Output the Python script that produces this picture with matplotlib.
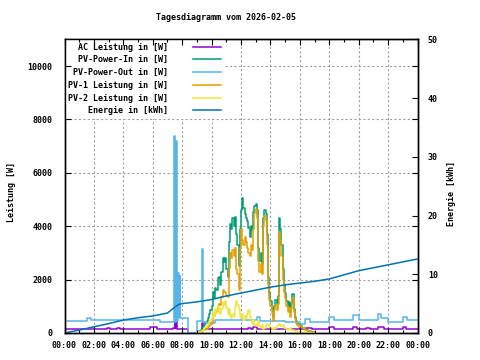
import numpy as np
import matplotlib
matplotlib.use("Agg")
import matplotlib.pyplot as plt
from matplotlib.ticker import MultipleLocator, FuncFormatter

plt.rcParams['font.family'] = ['DejaVu Sans Mono']
plt.rcParams['font.size'] = 6
plt.rcParams['font.weight'] = 'bold'

title = "Tagesdiagramm vom 2026-02-05"

# AC Leistung [W]: Stufen (Stunde, Wert)
ac_h = [0, 2.9, 3.1, 3.6, 3.8, 5.8, 6.3, 7.4, 7.5, 7.53, 7.6, 7.68, 8.4, 9.33, 9.4,
        12.5, 12.7, 12.8, 13.1, 16.4, 16.8, 18.0, 18.3, 19.6, 19.9, 20.5, 20.8,
        21.3, 21.7, 23.0, 23.2, 24]
ac_w = [140, 180, 140, 170, 140, 220, 150, 200, 2400, 200, 700, 150, 0, 380, 140,
        180, 140, 240, 140, 200, 140, 240, 140, 240, 140, 200, 140,
        240, 140, 240, 140, 140]

# PV-Power-Out [W]
out_h = [0, 1.5, 1.8, 6.5, 7.42, 7.48, 7.55, 7.62, 7.72, 7.78, 7.82, 7.88, 8.4,
         9.0, 9.33, 9.4, 9.7, 10.2, 13.1, 13.3, 15.0, 16.0, 16.35, 16.7, 18.0,
         18.3, 19.6, 20.0, 21.3, 21.5, 22.0, 23.0, 23.3, 24]
out_w = [450, 575, 480, 430, 7390, 430, 7200, 450, 2250, 600, 2150, 560, 0,
         450, 3150, 420, 380, 480, 600, 450, 400, 340, 530, 400, 600,
         490, 660, 480, 720, 580, 400, 600, 480, 480]

# PV-Leistungen ab 09:00, alle 5 Minuten [W]
solar_start = 9.0
pv_in = [10, 40, 80, 120, 180, 240, 300, 380, 450, 550, 700, 850,
         1000, 1550, 1300, 1700, 1600, 2050, 2100, 1800, 2300, 2800, 2650, 2800,
         2400, 2100, 3400, 4100, 3900, 4300, 4000, 4350, 3700, 3300, 2500, 3900,
         4600, 5050, 4700, 4450, 4300, 4200, 3950, 3600, 4000, 3850, 4550, 4750,
         4850, 4600, 3200, 2700, 3000, 2600, 4300, 4600, 4450, 3700, 2100, 1500,
         1200, 900, 600, 1000, 1250, 1100, 1400, 4300, 3900, 3300, 2400, 1800,
         1500, 1200, 950, 1150, 800, 1100, 1450, 900, 600, 450, 350, 250,
         300, 250, 200, 200, 150, 120, 100, 80, 60, 50, 40, 30,
         10, 0]
pv1 = [5, 20, 40, 55, 85, 105, 125, 145, 165, 210, 270, 340,
       430, 720, 620, 770, 820, 1000, 1100, 1050, 1350, 1600, 1550, 1550,
       1400, 1350, 2450, 3000, 2800, 3100, 2900, 3200, 2400, 2200, 1600, 3200,
       3900, 3500, 3300, 3600, 3400, 3200, 3000, 2900, 3300, 3100, 3900, 4500,
       4650, 4300, 2700, 2300, 2600, 2200, 4000, 4400, 4200, 3300, 1800, 1250,
       1000, 750, 450, 850, 1050, 850, 1100, 3800, 3500, 2900, 2000, 1550,
       1300, 1000, 800, 950, 600, 950, 1300, 800, 520, 380, 300, 210,
       270, 210, 170, 170, 130, 110, 90, 70, 55, 50, 40, 30,
       10, 0]
pv2 = [5, 20, 40, 60, 90, 130, 170, 230, 280, 330, 420, 500,
       550, 800, 650, 900, 750, 1000, 950, 700, 900, 1150, 1050, 1200,
       950, 700, 900, 650, 550, 700, 600, 1000, 1200, 1050, 900, 600,
       550, 700, 500, 650, 550, 700, 850, 600, 450, 350, 500, 300,
       250, 350, 450, 250, 200, 300, 150, 200, 250, 350, 300, 250,
       200, 150, 180, 150, 200, 250, 300, 350, 300, 250, 300, 200,
       180, 150, 120, 150, 180, 120, 100, 80, 70, 60, 40, 30,
       20, 30, 25, 20, 15, 10, 10, 5, 5, 0, 0, 0,
       0, 0]

# Energie [kWh]
energy_h = [0, 1, 2, 3, 4, 5, 6, 7, 7.5, 7.8, 8, 9, 10, 11, 12, 13, 14, 15, 16,
            17, 18, 19, 20, 21, 22, 23, 24]
energy_kwh = [0, 0.5, 1.05, 1.6, 2.2, 2.6, 2.9, 3.4, 4.4, 4.9, 5.0, 5.3, 5.7, 6.3,
              6.8, 7.3, 7.8, 8.2, 8.5, 8.8, 9.2, 9.9, 10.6, 11.1, 11.6, 12.1, 12.6]

labels = ["AC Leistung in [W]", "PV-Power-In in [W]", "PV-Power-Out in [W]",
          "PV-1 Leistung in [W]", "PV-2 Leistung in [W]", "Energie in [kWh]"]
colors = ["#9400d3", "#009e73", "#56b4e9", "#e69f00", "#f0e442", "#0072b2"]

solar_h = solar_start + np.arange(len(pv_in)) * 5 / 60

fig = plt.figure(figsize=(4.8, 3.6), dpi=100)
ax = fig.add_axes([64.5 / 480, 27 / 360, 353 / 480, 293.7 / 360])
ax2 = ax.twinx()
# left axis on top, so its ticks sit above the legend box
ax.set_zorder(ax2.get_zorder() + 1)
ax.patch.set_visible(False)
ax.set_axisbelow(False)

ax.set_xlim(0, 24)
ax.set_ylim(0, 11000)
ax2.set_ylim(0, 50)

ax.xaxis.set_major_locator(MultipleLocator(2))
ax.xaxis.set_minor_locator(MultipleLocator(1))
ax.xaxis.set_major_formatter(FuncFormatter(lambda h, p: f"{int(round(h)) % 24:02d}:00"))
ax.yaxis.set_major_locator(MultipleLocator(2000))
ax2.yaxis.set_major_locator(MultipleLocator(10))

# grid by hand so the legend box can hide it but not the ticks
grid_kw = dict(color='#a0a0a0', linestyle=(0, (2, 2)), lw=0.8, zorder=1)
for x in ax.get_xticks()[1:-1]:
    ax.axvline(x, **grid_kw)
for y in ax.get_yticks():
    if 0 < y < 11000:
        ax.axhline(y, **grid_kw)

lw = 1.1
handles = []
handles += ax.plot(ac_h, ac_w, color=colors[0], lw=lw, drawstyle='steps-post')
handles += ax.plot(solar_h, pv_in, color=colors[1], lw=lw, drawstyle='steps-post')
handles += ax.plot(out_h, out_w, color=colors[2], lw=lw, drawstyle='steps-post')
handles += ax.plot(solar_h, pv1, color=colors[3], lw=lw, drawstyle='steps-post')
handles += ax.plot(solar_h, pv2, color=colors[4], lw=lw, drawstyle='steps-post')
handles += ax.plot(energy_h, energy_kwh, color=colors[5], lw=lw,
                   transform=ax2.transData, zorder=2.1)

ax.tick_params(axis='x', which='both', direction='in', top=True, pad=5.5)
ax.tick_params(axis='x', which='major', length=4, width=0.8)
ax.tick_params(axis='x', which='minor', length=2.5, width=0.8)
ax.tick_params(axis='y', direction='in', right=True, length=4, width=0.8, pad=8.5)
ax2.tick_params(axis='y', direction='in', length=4, width=0.8, pad=7.5)

for a in (ax, ax2):
    for s in a.spines.values():
        s.set_linewidth(1.0)

width = max(len(s) for s in labels)
leg = ax.legend(handles, [s.rjust(width) for s in labels], loc='upper left',
                bbox_to_anchor=(0, 1), borderaxespad=0, markerfirst=False,
                frameon=True, fancybox=False, edgecolor='none', framealpha=1,
                handlelength=3.4, handletextpad=3.0, labelspacing=0.45,
                borderpad=0.4, fontsize=6)
leg.set_zorder(2.3)

fig.text(226.5 / 480, 1 - 18 / 360, title, ha='center', va='center', fontsize=6)
fig.text(12 / 480, 1 - 192 / 360, "Leistung [W]", rotation=90, ha='center', va='center', fontsize=6)
fig.text(452 / 480, 1 - 193 / 360, "Energie [kWh]", rotation=90, ha='center', va='center', fontsize=6)

fig.savefig("out.png", dpi=100)
